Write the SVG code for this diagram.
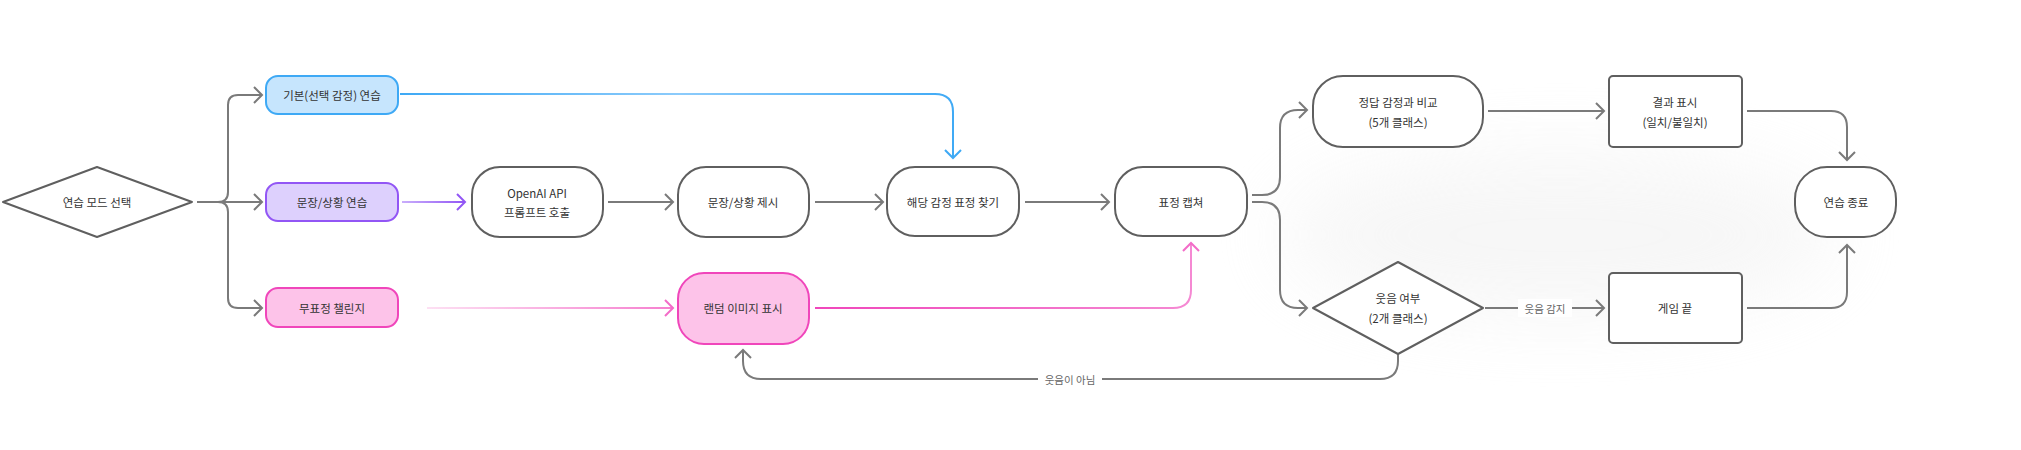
<svg xmlns="http://www.w3.org/2000/svg" width="2021" height="450" viewBox="0 0 2021 450">
<style>
.n{fill:#fff;stroke:#5f5f5f;stroke-width:2}
.t{font-family:"Noto Sans CJK KR","Noto Sans",sans-serif;font-size:11.5px;fill:#333;text-anchor:middle;dominant-baseline:central}
.l{font-family:"Noto Sans CJK KR","Noto Sans",sans-serif;font-size:10.5px;fill:#666;text-anchor:middle;dominant-baseline:central}
.c{fill:none;stroke:#7a7a7a;stroke-width:2}
.blue{fill:#c6e5fd;stroke:#3ea9f5;stroke-width:2}
.purple{fill:#ddd0fd;stroke:#9256f5;stroke-width:2}
.pink{fill:#fdc3e9;stroke:#f046bb;stroke-width:2}
</style>
<defs>
<marker id="ag" markerUnits="userSpaceOnUse" markerWidth="14" markerHeight="18" refX="11" refY="9" orient="auto"><path d="M3,1 L11,9 L3,17" fill="none" stroke="#7a7a7a" stroke-width="2"/></marker>
<marker id="ab" markerUnits="userSpaceOnUse" markerWidth="14" markerHeight="18" refX="11" refY="9" orient="auto"><path d="M3,1 L11,9 L3,17" fill="none" stroke="#3ea9f5" stroke-width="2"/></marker>
<marker id="ap" markerUnits="userSpaceOnUse" markerWidth="14" markerHeight="18" refX="11" refY="9" orient="auto"><path d="M3,1 L11,9 L3,17" fill="none" stroke="#9256f5" stroke-width="2"/></marker>
<marker id="ak" markerUnits="userSpaceOnUse" markerWidth="14" markerHeight="18" refX="11" refY="9" orient="auto"><path d="M3,1 L11,9 L3,17" fill="none" stroke="#f36cc8" stroke-width="2"/></marker>
<linearGradient id="gb" gradientUnits="userSpaceOnUse" x1="400" y1="0" x2="960" y2="0"><stop offset="0" stop-color="#3ea9f5"/><stop offset="0.5" stop-color="#8ccbfb"/><stop offset="1" stop-color="#3ea9f5"/></linearGradient>
<linearGradient id="gp" gradientUnits="userSpaceOnUse" x1="402" y1="0" x2="465" y2="0"><stop offset="0" stop-color="#c9aefb"/><stop offset="1" stop-color="#9256f5"/></linearGradient>
<linearGradient id="gk1" gradientUnits="userSpaceOnUse" x1="427" y1="0" x2="673" y2="0"><stop offset="0" stop-color="#fde0f3"/><stop offset="1" stop-color="#f67fcf"/></linearGradient>
<linearGradient id="gk2" gradientUnits="userSpaceOnUse" x1="815" y1="0" x2="1195" y2="0"><stop offset="0" stop-color="#f046bb"/><stop offset="1" stop-color="#f58ad3"/></linearGradient>
<filter id="haze" x="-50%" y="-50%" width="200%" height="200%"><feGaussianBlur stdDeviation="40"/></filter>
</defs>
<ellipse cx="1560" cy="235" rx="280" ry="80" fill="#ececec" opacity="0.45" filter="url(#haze)"/>
<g id="connectors">
<path class="c" d="M197,202 H218 Q228,202 228,192 V105 Q228,95 238,95 H262" marker-end="url(#ag)" stroke="#a8a8a8"/>
<path class="c" d="M197,202 H262" marker-end="url(#ag)"/>
<path class="c" d="M197,202 H218 Q228,202 228,212 V298 Q228,308 238,308 H262" marker-end="url(#ag)"/>
<path d="M400,94 H935 Q953,94 953,112 V158" fill="none" stroke="url(#gb)" stroke-width="2" marker-end="url(#ab)"/>
<path d="M402,202 H465" fill="none" stroke="url(#gp)" stroke-width="2" marker-end="url(#ap)"/>
<path class="c" d="M608,202 H673" marker-end="url(#ag)"/>
<path class="c" d="M815,202 H883" marker-end="url(#ag)"/>
<path class="c" d="M1025,202 H1109" marker-end="url(#ag)"/>
<path d="M427,308 H673" fill="none" stroke="url(#gk1)" stroke-width="2" marker-end="url(#ak)"/>
<path d="M815,308 H1173 Q1191,308 1191,290 V243" fill="none" stroke="url(#gk2)" stroke-width="2" marker-end="url(#ak)"/>
<path class="c" d="M1252,195 H1262 Q1280,195 1280,177 V128 Q1280,110 1298,110 H1307" marker-end="url(#ag)"/>
<path class="c" d="M1252,202 H1262 Q1280,202 1280,220 V290 Q1280,308 1298,308 H1307" marker-end="url(#ag)"/>
<path class="c" d="M1488,111 H1604" marker-end="url(#ag)"/>
<path class="c" d="M1747,111 H1831 Q1847,111 1847,127 V160" marker-end="url(#ag)"/>
<path class="c" d="M1485,308 H1604" marker-end="url(#ag)"/>
<rect x="1518" y="299" width="54" height="18" fill="#fff"/>
<text class="l" x="1545" y="308">웃음 감지</text>
<path class="c" d="M1747,308 H1831 Q1847,308 1847,292 V245" marker-end="url(#ag)"/>
<path class="c" d="M1398,354 V361 Q1398,379 1380,379 H761 Q743,379 743,361 V350" marker-end="url(#ag)"/>
<rect x="1038" y="370" width="64" height="18" fill="#fff"/>
<text class="l" x="1070" y="379">웃음이 아님</text>
</g>
<g id="mode-select"><polygon class="n" points="3,202 97,167 192,202 97,237" stroke-linejoin="round"/><text class="t" x="97" y="202">연습 모드 선택</text></g>
<g id="basic"><rect class="blue" x="266" y="76" width="132" height="38" rx="12"/><text class="t" x="332" y="95">기본(선택 감정) 연습</text></g>
<g id="sentence"><rect class="purple" x="266" y="183" width="132" height="38" rx="12"/><text class="t" x="332" y="202">문장/상황 연습</text></g>
<g id="neutral"><rect class="pink" x="266" y="288" width="132" height="39" rx="12"/><text class="t" x="332" y="308">무표정 챌린지</text></g>
<g id="openai"><rect class="n" x="472" y="167" width="131" height="70" rx="28"/><text class="t" x="537" y="193">OpenAI API</text><text class="t" x="537" y="212">프롬프트 호출</text></g>
<g id="present"><rect class="n" x="678" y="167" width="131" height="70" rx="28"/><text class="t" x="743" y="202">문장/상황 제시</text></g>
<g id="random"><rect class="pink" x="678" y="273" width="131" height="71" rx="26"/><text class="t" x="743" y="308">랜덤 이미지 표시</text></g>
<g id="find"><rect class="n" x="887" y="167" width="132" height="69" rx="28"/><text class="t" x="953" y="202">해당 감정 표정 찾기</text></g>
<g id="capture"><rect class="n" x="1115" y="167" width="132" height="69" rx="28"/><text class="t" x="1181" y="202">표정 캡쳐</text></g>
<g id="compare"><rect class="n" x="1313" y="76" width="170" height="71" rx="30"/><text class="t" x="1398" y="102">정답 감정과 비교</text><text class="t" x="1398" y="122">(5개 클래스)</text></g>
<g id="result"><rect class="n" x="1609" y="76" width="133" height="71" rx="4"/><text class="t" x="1675" y="102">결과 표시</text><text class="t" x="1675" y="122">(일치/불일치)</text></g>
<g id="end"><rect class="n" x="1795" y="167" width="101" height="70" rx="32"/><text class="t" x="1846" y="202">연습 종료</text></g>
<g id="laugh"><polygon class="n" points="1313,308 1398,262 1483,308 1398,354" stroke-linejoin="round"/><text class="t" x="1398" y="298">웃음 여부</text><text class="t" x="1398" y="318">(2개 클래스)</text></g>
<g id="gameover"><rect class="n" x="1609" y="273" width="133" height="70" rx="4"/><text class="t" x="1675" y="308">게임 끝</text></g>
</svg>
